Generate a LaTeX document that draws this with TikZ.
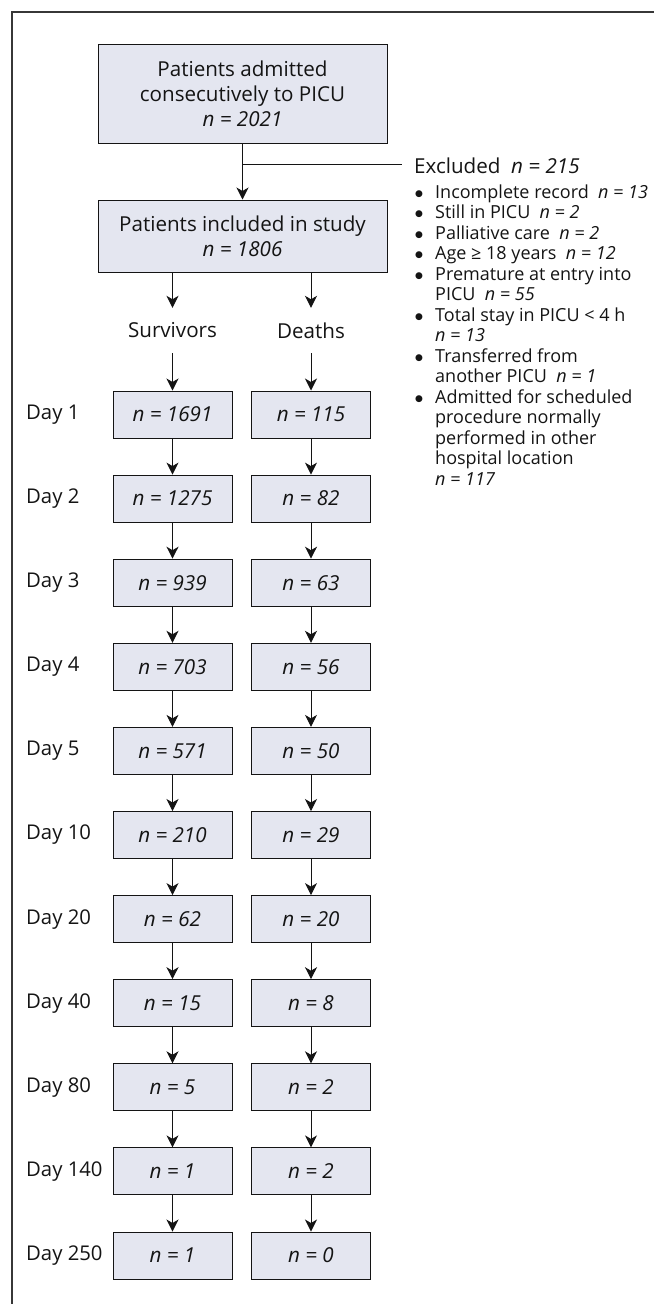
\documentclass[tikz,border=0pt]{standalone}
\usepackage{fontspec}
\setmainfont{Open Sans}
\newfontfamily\dejavu{DejaVu Sans}
\usetikzlibrary{arrows.meta}
\definecolor{boxfill}{RGB}{228,230,240}
\definecolor{ink}{RGB}{20,20,20}
\newcommand{\bul}{\raisebox{1.6pt}{\dejavu\fontsize{9}{9}\selectfont ●}}
\begin{document}
\begin{tikzpicture}[x=1pt,y=-1pt,
  every node/.style={text=ink},
  bigbox/.style={draw=ink, line width=1pt, fill=boxfill, minimum width=289pt, inner sep=0pt, align=center, font=\fontsize{20.6}{25}\selectfont},
  daybox/.style={draw=ink, line width=1pt, fill=boxfill, minimum width=119pt, minimum height=47pt, inner sep=0pt, font=\fontsize{20.6}{25}\selectfont\itshape},
  daylab/.style={anchor=west, inner sep=0pt, font=\fontsize{20.3}{25}\selectfont},
  grouplab/.style={minimum height=45pt, inner sep=0pt, font=\fontsize{20.6}{25}\selectfont},
  arr/.style={draw=ink, line width=1pt, -{Stealth[length=12pt,width=12pt,inset=3.5pt]}},
  plain/.style={draw=ink, line width=1pt}]
\useasboundingbox (0,0) rectangle (654,1304);
% frame
\draw[line width=1.2pt, draw=ink!85] (12,1304) -- (12,12) -- (654,12);
% top boxes
\node[bigbox, minimum height=99pt] (top) at (242.5,93.5) {Patients admitted\\consecutively to PICU\\\textit{n = 2021}};
\node[bigbox, minimum height=72pt] (inc) at (242.5,236) {Patients included in study\\\textit{n = 1806}};
\draw[arr] (top.south) -- (inc.north);
\coordinate (br) at (242.5,164);
\coordinate (brend) at (402,164);
\draw[plain] (br) -- (brend);
\node[anchor=base west, inner sep=0pt, font=\fontsize{20.6}{25}\selectfont] (exc) at (414,173) {Excluded\ \ \textit{n = 215}};
\node[anchor=base west, inner sep=0pt, font=\fontsize{18}{20.5}\selectfont] (exlist) at (415,198)
{\renewcommand{\arraystretch}{1}\begin{tabular}[t]{@{}p{20pt}@{}l@{}}
\bul & Incomplete record\ \ \textit{n = 13}\\
\bul & Still in PICU\ \ \textit{n = 2}\\
\bul & Palliative care\ \ \textit{n = 2}\\
\bul & Age ≥ 18 years\ \ \textit{n = 12}\\
\bul & Premature at entry into\\
 & PICU\ \ \textit{n = 55}\\
\bul & Total stay in PICU < 4 h\\
 & \textit{n = 13}\\
\bul & Transferred from\\
 & another PICU\ \ \textit{n = 1}\\
\bul & Admitted for scheduled\\
 & procedure normally\\
 & performed in other\\
 & hospital location\\
 & \textit{n = 117}
\end{tabular}};
% group labels
\node[grouplab] (surv) at (172.5,330.5) {Survivors};
\node[grouplab] (dead) at (311,330.5) {Deaths};
\draw[arr] (inc.south -| surv) -- (surv.north);
\draw[arr] (inc.south -| dead) -- (dead.north);
% day rows
\foreach \i/\d/\s/\m in {1/1/1691/115, 2/2/1275/82, 3/3/939/63, 4/4/703/56, 5/5/571/50, 6/10/210/29, 7/20/62/20, 8/40/15/8, 9/80/5/2, 10/140/1/2, 11/250/1/0} {
  \pgfmathsetmacro{\yy}{414.5+84.1*(\i-1)}
  \node[daybox] (s\i) at (172.5,\yy) {n = \s};
  \node[daybox] (d\i) at (311,\yy) {n = \m};
  \node[daylab] (lab\i) at (26,\yy) {Day \d};
}
\draw[arr] (surv.south) -- (s1.north);
\draw[arr] (dead.south) -- (d1.north);
\foreach \i [evaluate=\i as \j using int(\i+1)] in {1,...,10} {
  \draw[arr] (s\i.south) -- (s\j.north);
  \draw[arr] (d\i.south) -- (d\j.north);
}
\end{tikzpicture}
\end{document}
